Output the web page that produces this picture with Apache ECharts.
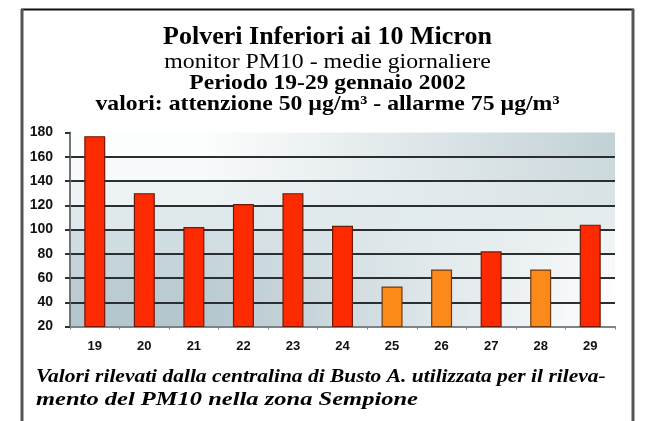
<!DOCTYPE html>
<html>
<head>
<meta charset="utf-8">
<script src="https://cdn.jsdelivr.net/npm/echarts@6/dist/echarts.min.js"></script>
<style>
html,body{margin:0;padding:0;background:#fff;}
#chart{width:649px;height:421px;}
</style>
</head>
<body>
<div id="chart"></div>
<script>
// ---- data ----
const days = ['19','20','21','22','23','24','25','26','27','28','29'];
const pm10 = [177, 130, 102, 121, 130, 103, 53, 67, 82, 67, 104];
const yTicks = [20, 40, 60, 80, 100, 120, 140, 160, 180];
const allarme = 75;
const titleLines = [
  'Polveri Inferiori ai 10 Micron',
  'monitor PM10 - medie giornaliere',
  'Periodo 19-29 gennaio 2002',
  'valori: attenzione 50 µg/m³ - allarme 75 µg/m³'
];
const footerLines = [
  'Valori rilevati dalla centralina di Busto A. utilizzata per il rileva-',
  'mento del PM10 nella zona Sempione'
];

// ---- styles ----
const serif = "'Liberation Serif', 'Times New Roman', serif";
const sans = "'Liberation Sans', Arial, sans-serif";
// background band colors (bottom band first): left colour, right colour
const bandLeft  = ['#b4c7ce','#bacbd2','#c4d4da','#d0dde2','#dfe8eb','#edf2f4','#f7f9fa','#fcfdfd'];
const bandRight = ['#ffffff','#fdfdfd','#f8fafa','#f0f4f5','#e4ecee','#d8e3e6','#ccd9dd','#c2d1d6'];

function grad(l, r) {
  return new echarts.graphic.LinearGradient(0, 0, 1, 0, [
    {offset: 0, color: l}, {offset: 0.25, color: l}, {offset: 1, color: r}
  ]);
}
const bands = [];
for (let i = 0; i < yTicks.length - 1; i++) {
  bands.push([
    {yAxis: yTicks[i], itemStyle: {color: grad(bandLeft[i], bandRight[i])}},
    {yAxis: yTicks[i + 1]}
  ]);
}

// title text styling: [font, centreY, scaleX]
const titleStyle = [
  ['bold 25px ' + serif, 38, 1.04],
  ['20px ' + serif, 63, 1.19],
  ['bold 21px ' + serif, 84, 1.12],
  ['bold 21px ' + serif, 105, 1.13]
];
const footerStyle = [
  ['italic bold 19px ' + serif, 377, 1.13],
  ['italic bold 19px ' + serif, 400, 1.29]
];
const gfx = [
  {type: 'line', shape: {x1: 21, y1: 9.5, x2: 634, y2: 9.5}, style: {stroke: '#111', lineWidth: 2}},
  {type: 'line', shape: {x1: 22, y1: 9, x2: 22, y2: 430}, style: {stroke: '#555', lineWidth: 3}},
  {type: 'line', shape: {x1: 633, y1: 9, x2: 633, y2: 430}, style: {stroke: '#555', lineWidth: 3}}
];
titleLines.forEach((t, i) => {
  const s = titleStyle[i];
  gfx.push({type: 'text', x: 327.5, y: s[1], scaleX: s[2],
    style: {text: t, x: 0, y: 0, align: 'center', verticalAlign: 'middle', font: s[0], fill: '#000'}});
});
footerLines.forEach((t, i) => {
  const s = footerStyle[i];
  gfx.push({type: 'text', x: 36, y: s[1], scaleX: s[2],
    style: {text: t, x: 0, y: 0, align: 'left', verticalAlign: 'middle', font: s[0], fill: '#000'}});
});

const chart = echarts.init(document.getElementById('chart'), null, {renderer: 'canvas'});
const option = {
  animation: false,
  backgroundColor: '#ffffff',
  grid: {left: 70, right: 34, top: 132.5, bottom: 94.5, containLabel: false},
  xAxis: {
    type: 'category',
    z: 1,
    data: days,
    boundaryGap: true,
    axisLine: {lineStyle: {color: '#7d8487', width: 2}},
    axisTick: {show: true, length: 3, lineStyle: {color: '#7d8487', width: 1}},
    axisLabel: {margin: 13, fontFamily: sans, fontWeight: 'bold', fontSize: 13, color: '#111'},
    splitLine: {show: false}
  },
  yAxis: {
    type: 'value',
    z: 1,
    min: yTicks[0],
    max: yTicks[yTicks.length - 1],
    interval: 20,
    axisLine: {show: true, lineStyle: {color: '#6f7679', width: 2}},
    axisTick: {show: true, length: 5, lineStyle: {color: '#333', width: 2}},
    axisLabel: {margin: 17, fontFamily: sans, fontWeight: 'bold', fontSize: 14, color: '#111'},
    splitLine: {show: true, showMaxLine: false, lineStyle: {color: '#2b2f31', width: 2}}
  },
  series: [
    {
      type: 'line',
      z: 0,
      silent: true,
      symbol: 'none',
      data: days.map(() => null),
      markArea: {silent: true, z: 0, data: bands, label: {show: false}}
    },
    {
      type: 'bar',
      z: 5,
      barWidth: 21,
      data: pm10.map(v => ({
        value: v,
        itemStyle: v >= allarme
          ? {color: '#fd2a00', borderColor: '#6e1a08', borderWidth: 1.2}
          : {color: '#fb8a1b', borderColor: '#6b3a10', borderWidth: 1.2}
      }))
    }
  ],
  graphic: gfx
};
chart.setOption(option);
</script>
</body>
</html>
